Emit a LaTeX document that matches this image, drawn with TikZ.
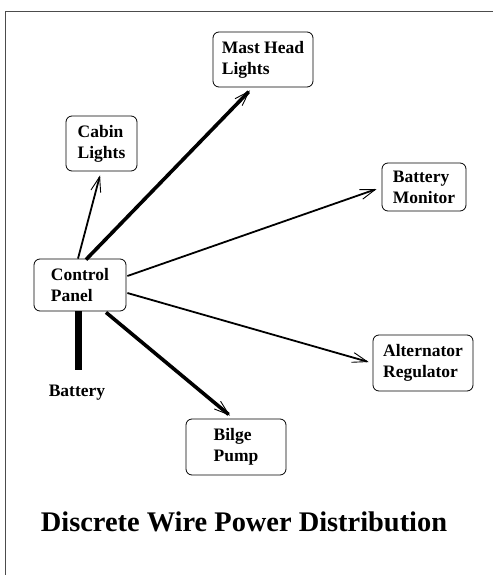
\documentclass[tikz,border=0pt]{standalone}
\usepackage{fontspec}
\setmainfont{Liberation Serif}
\usetikzlibrary{arrows.meta,calc}
\begin{document}
\begin{tikzpicture}[x=1pt,y=-1pt,
  box/.style={draw, rounded corners=6pt, line width=0.8pt, align=left, inner sep=0pt,
    font=\bfseries\fontsize{17.5}{21}\selectfont},
  tip/.style={-{Straight Barb[length=15pt,width=10pt,line width=0.9pt]}},
  thinwire/.style={tip, line width=1.8pt},
  thickwire/.style={tip, line width=3.6pt},
  frame/.style={line width=0.9pt, draw=black!70}
]
\useasboundingbox (0,0) rectangle (493,575);
\coordinate (fbl) at (5,575);
\coordinate (ftl) at (5,11);
\coordinate (ftr) at (493,11);
\draw[frame] (fbl) -- (ftl) -- (ftr);

\node[box, minimum width=100pt, minimum height=55pt] (mast) at (263,59.5) {Mast Head\\Lights};
\node[box, minimum width=71pt, minimum height=55pt] (cabin) at (101.5,143.5) {Cabin\\Lights};
\node[box, minimum width=84pt, minimum height=48pt] (bmon) at (424,187) {Battery\\Monitor};
\node[box, minimum width=92pt, minimum height=52pt] (ctrl) at (80,285) {Control\\Panel};
\node[box, minimum width=100pt, minimum height=56pt] (alt) at (423,363) {Alternator\\Regulator};
\node[box, minimum width=100pt, minimum height=56pt] (bilge) at (236,447) {Bilge\\Pump};
\node[font=\bfseries\fontsize{17.5}{21}\selectfont] (batt) at (77,393) {Battery};

\draw[line width=7pt] (ctrl.south) ++(-2,0) coordinate (bt) -- ++(0,59) coordinate (bb);

\draw[thinwire] ($(ctrl.north)+(-2,0)$) -- ($(cabin.south)+(-1.5,4)$);
\draw[thickwire] ($(ctrl.north)+(6,1)$) -- ($(mast.south)+(-13,3)$);
\draw[thinwire] ($(ctrl.east)+(1,-9)$) -- ($(bmon.west)+(-5,2)$);
\draw[thinwire] ($(ctrl.east)+(1,8)$) -- ($(alt.west)+(-4,-1)$);
\draw[thickwire] ($(ctrl.south)+(26,1)$) -- ($(bilge.north)+(-6,-3)$);

\node[font=\bfseries\fontsize{28.4}{34}\selectfont] (title) at (244,522) {Discrete Wire Power Distribution};
\end{tikzpicture}
\end{document}
